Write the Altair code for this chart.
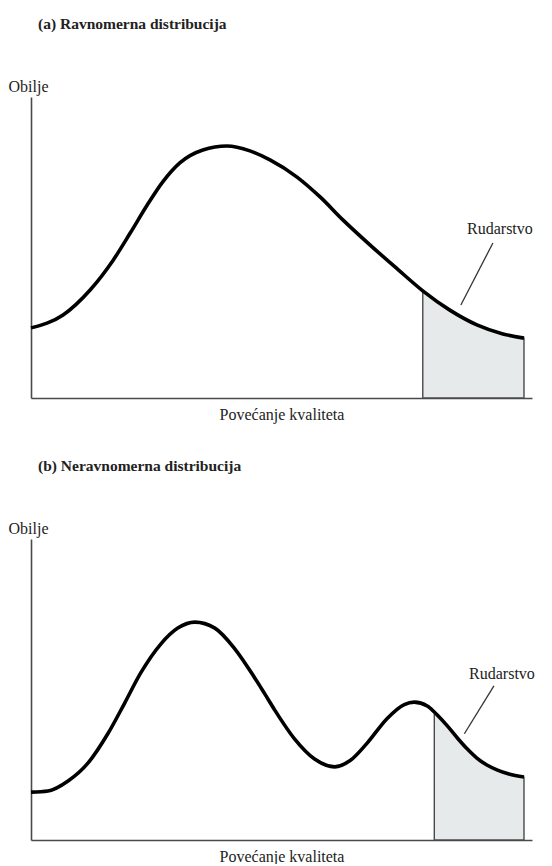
import altair as alt
import pandas as pd

# ---- Panel (a): uniform distribution (quality units 0-100, abundance units 0-100)
a_quality = [0, 6.4, 11.8, 16.4, 19.8, 23.2, 26.3, 29.7, 34.3, 39.1, 43.7, 47.7,
             53.1, 57.7, 62.3, 67.7, 73.1, 78.2, 83.6, 89.0, 94.2, 98.4]
a_abundance = [23.3, 27.6, 35.9, 45.8, 54.8, 64.1, 71.8, 78.1, 82.4, 83.7, 82.1, 79.1,
               73.4, 66.8, 59.1, 50.8, 42.9, 35.6, 29.2, 24.3, 21.3, 19.9]
a_mining_from = 78.2

# ---- Panel (b): uneven distribution
b_quality = [0, 3.4, 7.4, 11.4, 15.3, 18.7, 21.9, 25.9, 29.3, 32.7, 36.7, 40.6,
             44.6, 46.6, 48.6, 52.6, 56.6, 60.6, 63.7, 67.1, 71.1, 74.5,
             76.5, 79.1, 80.5, 81.1, 83.1, 85.1, 87.1, 89.0, 91.0, 93.0, 95.4, 98.4]
b_abundance = [15.9, 16.3, 19.6, 25.6, 35.2, 45.5, 55.5, 65.1, 70.4, 72.4, 70.4, 63.7,
               54.0, 48.7, 43.3, 33.6, 26.9, 24.3, 26.4, 32.2, 40.4, 45.0,
               45.8, 44.5, 42.5, 41.5, 37.9, 33.9, 30.2, 27.2, 24.9, 23.3, 21.9, 20.9]
b_mining_from = 80.5

# ---- Annotation "Rudarstvo" (label point and leader line, in data units)
a_label = {"x": 93.6, "y": 56.1, "lx1": 92.2, "ly1": 51.5, "lx2": 85.8, "ly2": 30.9}
b_label = {"x": 94.0, "y": 55.1, "lx1": 92.4, "ly1": 51.2, "lx2": 86.5, "ly2": 35.3}

titles = ["(a) Ravnomerna distribucija", "(b) Neravnomerna distribucija"]
x_title = "Povećanje kvaliteta"
y_title = "Obilje"
label_text = "Rudarstvo"

SERIF = "Liberation Serif, Times New Roman, DejaVu Serif, serif"


def panel(q, ab, start, lab, title):
    df = pd.DataFrame({"q": q, "a": ab})
    xs = alt.Scale(domain=[0, 100], nice=False)
    ys = alt.Scale(domain=[0, 100], nice=False)
    x = alt.X("q:Q", scale=xs, axis=alt.Axis(
        title=x_title, domain=True, domainColor="#4a4a4a", domainWidth=1.6,
        ticks=False, labels=False, grid=False, titleFont=SERIF,
        titleFontSize=16, titleFontWeight="normal", titleColor="#222",
        titlePadding=8))
    y = alt.Y("a:Q", scale=ys, axis=alt.Axis(
        title=y_title, domain=True, domainColor="#4a4a4a", domainWidth=1.6,
        ticks=False, labels=False, grid=False, titleFont=SERIF,
        titleFontSize=16, titleFontWeight="normal", titleColor="#222",
        titleAngle=0, titleAlign="left", titleBaseline="middle",
        titleX=-23, titleY=-11))

    area = alt.Chart(df).transform_filter(alt.datum.q >= start).mark_area(
        color="#e6eaea", stroke="#4a4a4a", strokeWidth=1.4, interpolate="monotone"
    ).encode(x=x, y=y, y2=alt.datum(0))

    line = alt.Chart(df).mark_line(
        color="#000", strokeWidth=3.6, interpolate="monotone", strokeCap="butt"
    ).encode(x=x, y=y)

    ann = pd.DataFrame([lab])
    leader = alt.Chart(ann).mark_rule(color="#333", strokeWidth=1.3).encode(
        x=alt.X("lx1:Q", scale=xs), y=alt.Y("ly1:Q", scale=ys),
        x2="lx2:Q", y2="ly2:Q")
    text = alt.Chart(ann).mark_text(
        text=label_text, font=SERIF, fontSize=16, color="#222"
    ).encode(x=alt.X("x:Q", scale=xs), y=alt.Y("y:Q", scale=ys))

    return alt.layer(area, line, leader, text).properties(
        width=501, height=301,
        title=alt.TitleParams(title, anchor="start", frame="group", dx=7,
                              font=SERIF, fontSize=15.5, fontWeight="bold",
                              color="#222", offset=46))


chart = alt.vconcat(
    panel(a_quality, a_abundance, a_mining_from, a_label, titles[0]),
    panel(b_quality, b_abundance, b_mining_from, b_label, titles[1]),
    spacing=36,
).properties(
    padding={"left": 0, "top": 8, "right": 0, "bottom": 0},
    background="white",
).configure_view(strokeWidth=0, stroke="transparent")

chart.save("out.html", embed_options={"renderer": "svg", "actions": False})
